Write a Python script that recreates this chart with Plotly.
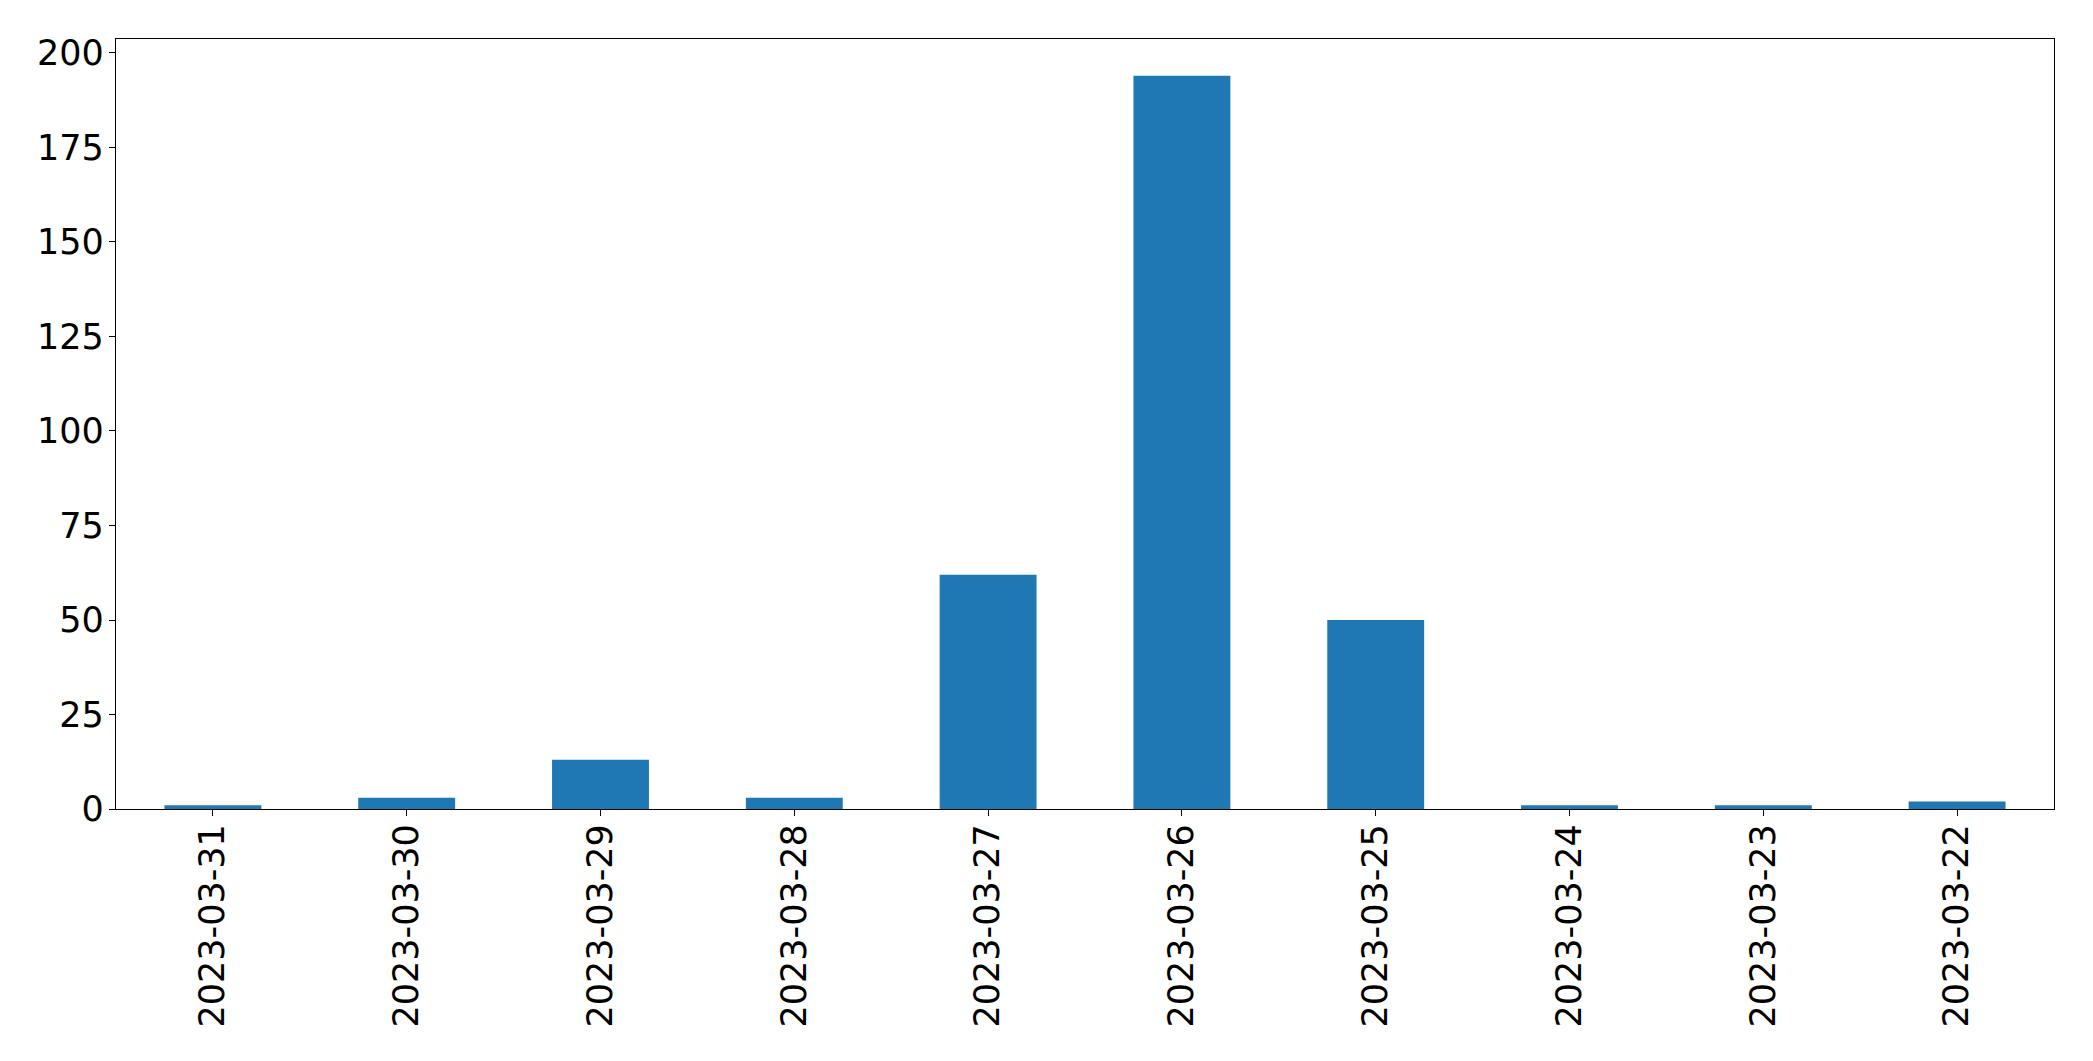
import plotly.graph_objects as go

dates = ["2023-03-31", "2023-03-30", "2023-03-29", "2023-03-28", "2023-03-27",
         "2023-03-26", "2023-03-25", "2023-03-24", "2023-03-23", "2023-03-22"]
counts = [1, 3, 13, 3, 62, 194, 50, 1, 1, 2]
y_ticks = [0, 25, 50, 75, 100, 125, 150, 175, 200]

fig = go.Figure()
fig.add_trace(go.Bar(x=dates, y=counts, width=0.5, marker=dict(color="#1f77b4", line=dict(width=0))))

axis_common = dict(
    showline=True, linecolor="black", linewidth=1.3, mirror=True,
    ticks="outside", ticklen=6, tickwidth=1.3, tickcolor="black",
    showgrid=False, zeroline=False,
    tickfont=dict(family="DejaVu Sans", size=35, color="black"),
)

fig.update_layout(
    width=2085, height=1053,
    margin=dict(l=108, r=39, t=31, b=252),
    paper_bgcolor="white", plot_bgcolor="white",
    showlegend=False,
    xaxis=dict(type="category", range=[-0.5, len(dates) - 0.5], tickangle=-90,
               ticklabelstandoff=-6, **axis_common),
    yaxis=dict(range=[0, max(counts) * 1.05], tickvals=y_ticks, ticklabelstandoff=-2, **axis_common),
)

fig.write_html("out.html")
